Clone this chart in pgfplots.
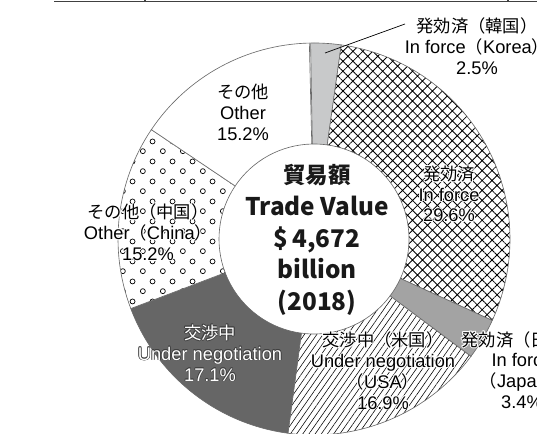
\documentclass[border=0pt]{standalone}
\usepackage{pgfplots}
\pgfplotsset{compat=1.18}
\usepackage{pgfplotstable}
\usetikzlibrary{patterns,patterns.meta}
\usepackage{fontspec}
\setmainfont{Liberation Sans}
\newfontfamily\jp{Noto Sans CJK JP}

\definecolor{korea}{HTML}{C8C9CA}
\definecolor{japan}{HTML}{A3A3A3}
\definecolor{darkneg}{HTML}{666666}
\definecolor{border}{HTML}{6A6A6A}

\tikzdeclarepattern{
  name=OCircles,
  type=uncolored,
  bottom left={(0pt,0pt)},
  top right={(14pt,14pt)},
  tile size={(14pt,14pt)},
  code={
    \pgfsetlinewidth{0.5pt}
    \pgfpathcircle{\pgfpoint{3.5pt}{3.5pt}}{1.8pt}
    \pgfpathcircle{\pgfpoint{10.5pt}{10.5pt}}{1.8pt}
    \pgfusepath{stroke}
  }
}

\pgfplotstableread{
name value
Korea 2.5
InForce 29.6
Japan 3.4
USA 16.9
Negotiation 17.1
China 15.2
Other 15.2
}\shares

\tikzset{
  sl0/.style={fill=korea},
  sl1/.style={pattern={Hatch[angle=45,distance=5pt,line width=0.6pt]}},
  sl2/.style={fill=japan},
  sl3/.style={pattern={Lines[angle=55,distance=3.6pt,line width=0.4pt]}},
  sl4/.style={fill=darkneg},
  sl5/.style={pattern=OCircles},
  sl6/.style={fill=white},
  lbl/.style={align=center,font=\fontsize{13}{14.8}\selectfont,inner sep=0pt},
  halo/.style={lbl,text=white},
  dhalo/.style={lbl,text=black!75},
}
\newcommand\J[1]{{\jp\fontsize{12.3}{14.8}\selectfont #1}}
\newcommand\halonode[2]{%
  \node[halo,xshift=0.7pt] at (#1) {#2};
  \node[halo,xshift=-0.7pt] at (#1) {#2};
  \node[halo,yshift=0.7pt] at (#1) {#2};
  \node[halo,yshift=-0.7pt] at (#1) {#2};
  \node[halo,xshift=0.5pt,yshift=0.5pt] at (#1) {#2};
  \node[halo,xshift=-0.5pt,yshift=0.5pt] at (#1) {#2};
  \node[halo,xshift=0.5pt,yshift=-0.5pt] at (#1) {#2};
  \node[halo,xshift=-0.5pt,yshift=-0.5pt] at (#1) {#2};
  \node[lbl] at (#1) {#2};
}
\newcommand\darkhalonode[2]{%
  \node[dhalo,xshift=0.45pt] at (#1) {#2};
  \node[dhalo,xshift=-0.45pt] at (#1) {#2};
  \node[dhalo,yshift=0.45pt] at (#1) {#2};
  \node[dhalo,yshift=-0.45pt] at (#1) {#2};
  \node[dhalo,xshift=0.32pt,yshift=0.32pt] at (#1) {#2};
  \node[dhalo,xshift=-0.32pt,yshift=0.32pt] at (#1) {#2};
  \node[dhalo,xshift=0.32pt,yshift=-0.32pt] at (#1) {#2};
  \node[dhalo,xshift=-0.32pt,yshift=-0.32pt] at (#1) {#2};
  \node[lbl,text=white] at (#1) {#2};
}

\def\Ro{4.9}
\def\Ri{2.375}
\def\startang{91}

\begin{document}
\begin{tikzpicture}
\begin{axis}[
  x=1cm, y=1cm,
  xmin=-7.85, xmax=5.575,
  ymin=-4.875, ymax=5.975,
  scale only axis,
  hide axis,
  clip=false,
]
\xdef\cum{0}
\pgfplotsforeachungrouped \i in {0,...,6}{%
  \pgfplotstablegetelem{\i}{value}\of\shares
  \let\v\pgfplotsretval
  \pgfmathsetmacro\a{\startang-3.6*\cum}
  \pgfmathsetmacro\cumnew{\cum+\v}
  \xdef\cum{\cumnew}
  \pgfmathsetmacro\b{\startang-3.6*\cum}
  \pgfmathsetmacro\xa{\Ro*cos(\a)}
  \pgfmathsetmacro\ya{\Ro*sin(\a)}
  \pgfmathsetmacro\xc{\Ri*cos(\b)}
  \pgfmathsetmacro\yc{\Ri*sin(\b)}
  \edef\temp{%
    \noexpand\fill[white] (axis cs:\xa,\ya) arc[start angle=\a,end angle=\b,radius=\Ro] -- (axis cs:\xc,\yc) arc[start angle=\b,end angle=\a,radius=\Ri] -- cycle;
    \noexpand\path[sl\i] (axis cs:\xa,\ya) arc[start angle=\a,end angle=\b,radius=\Ro] -- (axis cs:\xc,\yc) arc[start angle=\b,end angle=\a,radius=\Ri] -- cycle;
    \noexpand\draw[border,line width=0.45pt] (axis cs:\xa,\ya) arc[start angle=\a,end angle=\b,radius=\Ro] -- (axis cs:\xc,\yc) arc[start angle=\b,end angle=\a,radius=\Ri] -- cycle;
  }%
  \temp
}

% top rule
\draw[black!75,line width=1pt] (axis cs:-6.5,5.9375) -- (axis cs:5.575,5.9375);
\draw[black!75,line width=0.8pt] (axis cs:-4.225,5.975) -- (axis cs:-4.225,5.9375);
\draw[black!75,line width=0.8pt] (axis cs:4.85,5.975) -- (axis cs:4.85,5.9375);

% leader line (Korea)
\draw[black,line width=0.5pt] (axis cs:0.275,4.65) -- (axis cs:2.275,5.375);

% labels
\node[lbl] at (axis cs:-1.775,3.1625) {\J{その他}\\Other\\15.2\%};
\node[lbl] at (axis cs:4.075,4.825) {\J{発効済（韓国）}\\In force\J{（}Korea\J{）}\\2.5\%};
\halonode{axis cs:3.375,1.125}{\J{発効済}\\In force\\29.6\%}
\halonode{axis cs:-4.15,0.175}{\J{その他（中国）}\\Other\J{（}China\J{）}\\15.2\%}
\halonode{axis cs:1.725,-3.2875}{\J{交渉中（米国）}\\Under negotiation\\\J{（}USA\J{）}\\16.9\%}
\halonode{axis cs:5.2,-3.275}{\J{発効済（日本）}\\In force\\\J{（}Japan\J{）}\\3.4\%}
\darkhalonode{axis cs:-2.6,-2.85}{\J{交渉中}\\Under negotiation\\17.1\%}

% centre
\node[align=center,inner sep=0pt,font=\jp\bfseries\fontsize{17.3}{22.6}\selectfont,text=black!90]
  at (axis cs:0.075,-0.025)
  {{\fontsize{16}{22.6}\selectfont 貿易額}\\Trade Value\\\$\,4,672\\billion\\(2018)};
\end{axis}
\pgfresetboundingbox
\useasboundingbox (current axis.south west) rectangle (current axis.north east);
\end{tikzpicture}
\end{document}
